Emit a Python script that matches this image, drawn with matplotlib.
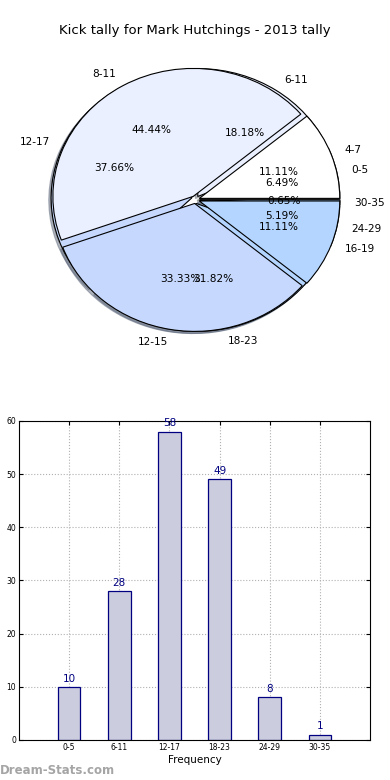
import matplotlib
matplotlib.use("Agg")
import matplotlib.pyplot as plt

# data
bins6 = ["0-5", "6-11", "12-17", "18-23", "24-29", "30-35"]
freq6 = [10, 28, 58, 49, 8, 1]
bins4 = ["4-7", "8-11", "12-15", "16-19"]
freq4 = [1, 4, 3, 1]

pie_colors = ["white", "#eaf0ff", "#c6d8fe", "#b3d5ff", "#a9cbf5", "#9cc0ee"]
shadow = {"ox": -0.012, "oy": -0.012, "shade": 0.5}

fig = plt.figure(figsize=(3.9, 7.8), dpi=100)

# pie part
ax1 = fig.add_axes([0.141, 0.580, 0.72, 0.328])
ax1.pie(freq6, labels=bins6, colors=pie_colors, autopct="%1.2f%%",
        explode=[0.03] * len(freq6), shadow=shadow,
        textprops={"fontsize": 7.6}, wedgeprops={"linewidth": 0.8, "edgecolor": "black"})
ax1.pie(freq4, labels=bins4, colors=pie_colors[:4], autopct="%1.2f%%",
        explode=[0.03] * len(freq4), shadow=shadow,
        textprops={"fontsize": 7.6}, wedgeprops={"linewidth": 0.8, "edgecolor": "black"})
ax1.set_aspect("auto")
ax1.set_xlim(-1, 1)
ax1.set_ylim(-1, 1)
ax1.axis("off")
fig.text(0.5, 0.961, "Kick tally for Mark Hutchings - 2013 tally", ha="center", va="center", fontsize=9.5)

# bar part
ax2 = fig.add_axes([0.0487, 0.0513, 0.9, 0.409])
x = list(range(len(bins6)))
ax2.bar(x, freq6, width=0.45, color="#ccccdf", edgecolor="navy", linewidth=0.9, zorder=2)
for xi, v in zip(x, freq6):
    ax2.text(xi, v + 0.6, str(v), ha="center", va="bottom", color="navy", fontsize=7.5)
ax2.set_xlim(-1, 6)
ax2.set_ylim(0, 60)
ax2.set_xticks(x)
ax2.set_xticklabels(bins6)
ax2.set_yticks(range(0, 61, 10))
ax2.tick_params(labelsize=5.5, direction="in", top=True, right=True, length=3, pad=2)
ax2.grid(True, linestyle=":", color="#b0b0b0", linewidth=0.8, zorder=0)
ax2.set_xlabel("Frequency", fontsize=7.5, labelpad=2)

fig.text(0.0, 0.012, "Dream-Stats.com", color="#a5a5a5", fontsize=8.5, fontweight="bold", ha="left", va="center")

fig.savefig("out.png", dpi=100)
